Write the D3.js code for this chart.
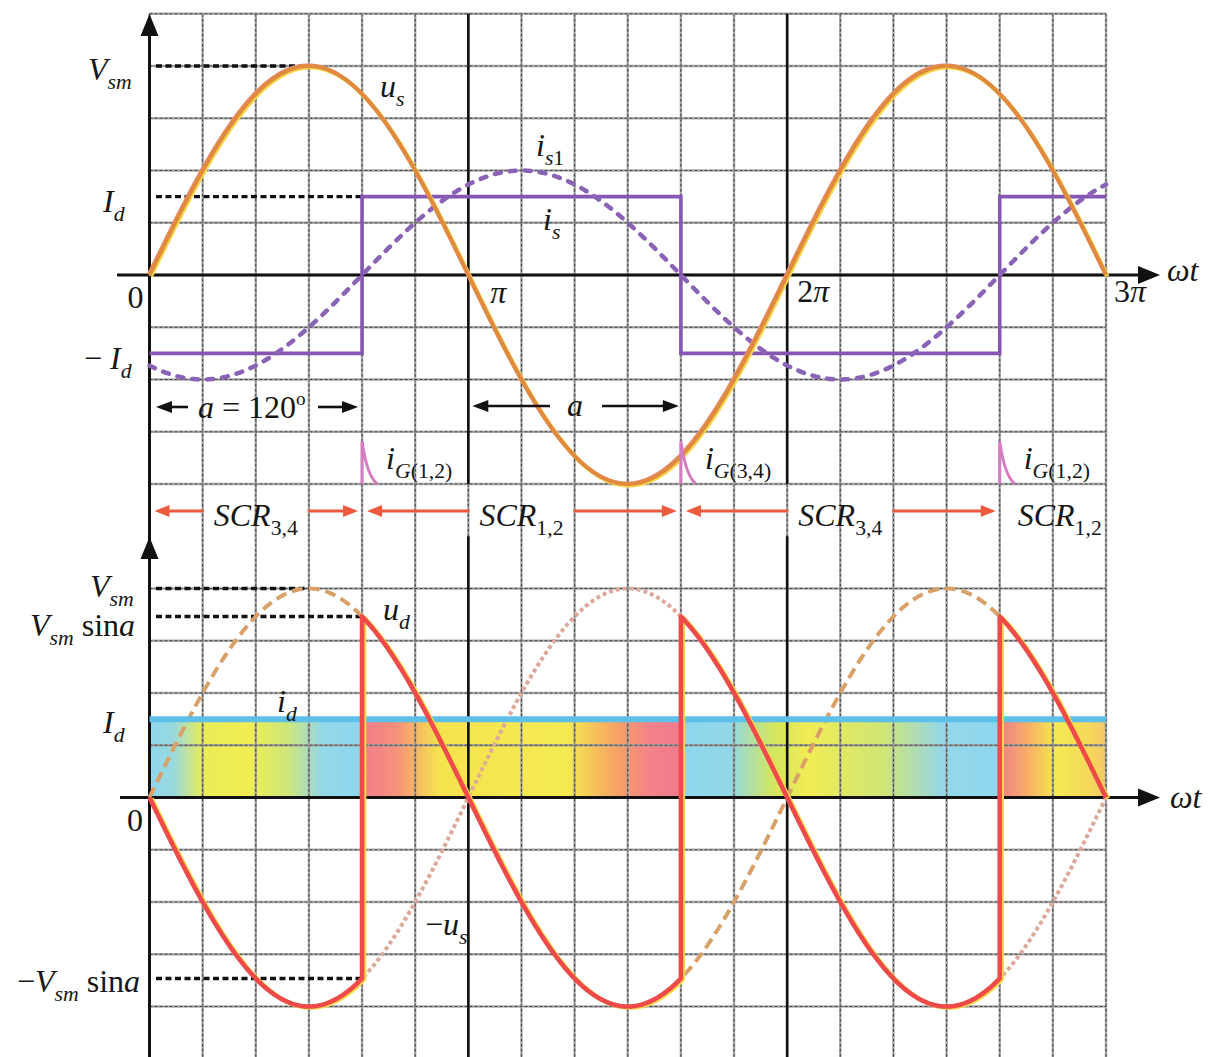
<!DOCTYPE html>
<html><head><meta charset="utf-8">
<script src="https://cdn.jsdelivr.net/npm/d3@7"></script>
<style>
body{margin:0;background:#fff;}
svg{display:block;}
</style>
</head><body>
<svg id="chart" width="1212" height="1057"></svg>
<script>
// ================= DATA (angles in degrees, amplitudes in grid units) =================
const xTickDeg = [0, 180, 360, 540];
const xTickLabels = ["0", "π", "2π", "3π"];
const seriesNames = ["us", "is1", "is", "ud", "id"];
const seriesPeak  = [4.0, 2.0, 1.5, 4.0, 1.5];
const firingDeg = 120;                       // a = 120°
const isBreaksDeg = [0, 120, 300, 480, 540]; // i_s switching instants
const isLevels = [-1.5, 1.5, -1.5, 1.5];     // i_s level in each interval
const scrSegmentsDeg = [[0, 120], [120, 300], [300, 480], [480, 540]];
const scrNames = ["3,4", "1,2", "3,4", "1,2"];
const udSign = [-1, 1, -1, 1];               // u_d = +u_s (SCR1,2) or -u_s (SCR3,4)
const gateDeg = [120, 300, 480];
const gateNames = ["1,2", "3,4", "1,2"];
const gatePeak = 0.82;                        // gate pulse height (grid units)

const peak = n => seriesPeak[seriesNames.indexOf(n)];
const rad = d => d * Math.PI / 180;

// ================= LAYOUT / SCALES =================
const FONT = "'Liberation Serif', 'DejaVu Serif', 'Times New Roman', serif";
const svg = d3.select("#chart");
const x  = d3.scaleLinear().domain([0, 540]).range([149.5, 1106]);
const yT = d3.scaleLinear().domain([-4, 5]).range([484, 13.75]);
const yB = d3.scaleLinear().domain([-5, 5]).range([1058.75, 536.25]);
const H = 1057;

// ---- band gradient (style) ----
const bandStops = [
  [0, "#8dd6ee"], [14, "#9ad9dc"], [30, "#e9ec58"], [55, "#f2ee52"], [78, "#cfe67a"], [98, "#93d7e9"], [119.9, "#8fd6ee"],
  [120, "#f37b8d"], [140, "#f69279"], [163, "#f5e24e"], [235, "#f4ec50"], [262, "#f6a663"], [283, "#f4818a"], [299.9, "#f37b8d"],
  [300, "#8dd6ee"], [328, "#92d7e6"], [352, "#d3e65e"], [372, "#f1ec55"], [415, "#cfe576"], [448, "#93d7e9"], [479.9, "#8fd6ee"],
  [480, "#f27e8e"], [497, "#f7b263"], [512, "#f4ea52"], [530, "#f4d95a"], [540, "#f3c86a"]
];
const defs = svg.append("defs");
const grad = defs.append("linearGradient").attr("id", "bandGrad")
  .attr("gradientUnits", "userSpaceOnUse")
  .attr("x1", x(0)).attr("x2", x(540)).attr("y1", 0).attr("y2", 0);
bandStops.forEach(([d, c]) => grad.append("stop").attr("offset", d / 540).attr("stop-color", c));

// ---- i_d band ----
svg.append("rect")
  .attr("x", x(0)).attr("width", x(540) - x(0))
  .attr("y", yB(peak("id"))).attr("height", yB(0) - yB(peak("id")))
  .attr("fill", "url(#bandGrad)");

// ---- grid ----
const gGrid = svg.append("g");
const gridCols = d3.range(0, 541, 30);
const gridRowsPix = d3.range(-4, 6).map(v => yT(v)).concat(d3.range(-4, 5).map(v => yB(v)));
function gridLine(x1, y1, x2, y2) {
  gGrid.append("line").attr("x1", x1).attr("y1", y1).attr("x2", x2).attr("y2", y2)
    .attr("stroke", "#a0a0a0").attr("stroke-width", 2.4).attr("opacity", 0.85);
  gGrid.append("line").attr("x1", x1).attr("y1", y1).attr("x2", x2).attr("y2", y2)
    .attr("stroke", "#444").attr("stroke-width", 1.1).attr("stroke-dasharray", "3,2");
}
gridCols.forEach(d => gridLine(x(d), yT(5), x(d), H));
gridRowsPix.forEach(py => gridLine(x(0), py, x(540), py));

// dark lines at π, 2π
[180, 360].forEach(d => {
  svg.append("line").attr("x1", x(d)).attr("x2", x(d)).attr("y1", yT(5)).attr("y2", yT(-4))
    .attr("stroke", "#111").attr("stroke-width", 2.6);
  svg.append("line").attr("x1", x(d)).attr("x2", x(d)).attr("y1", yB(5)).attr("y2", H)
    .attr("stroke", "#111").attr("stroke-width", 2.6);
});

// ---- axes ----
const gAx = svg.append("g");
function vArrowHead(px, tipY) {
  gAx.append("path").attr("d", `M${px},${tipY} L${px - 9},${tipY + 22} L${px + 9},${tipY + 22} Z`).attr("fill", "#111");
}
function hArrowHead(tipX, py, col, len, half) {
  gAx.append("path").attr("d", `M${tipX},${py} L${tipX - len},${py - half} L${tipX - len},${py + half} Z`).attr("fill", col);
}
gAx.append("line").attr("x1", x(0)).attr("x2", x(0)).attr("y1", 20).attr("y2", H).attr("stroke", "#111").attr("stroke-width", 3);
vArrowHead(x(0), 14);
vArrowHead(x(0), 537);
gAx.append("line").attr("x1", 117).attr("x2", 1145).attr("y1", yT(0)).attr("y2", yT(0)).attr("stroke", "#111").attr("stroke-width", 3);
hArrowHead(1160, yT(0), "#111", 22, 9);
gAx.append("line").attr("x1", 120).attr("x2", 1145).attr("y1", yB(0)).attr("y2", yB(0)).attr("stroke", "#111").attr("stroke-width", 3);
hArrowHead(1160, yB(0), "#111", 22, 9);

// ---- dashed reference lines ----
function refLine(py, toDeg) {
  svg.append("line").attr("x1", 156).attr("x2", x(toDeg)).attr("y1", py).attr("y2", py)
    .attr("stroke", "#111").attr("stroke-width", 3.4).attr("stroke-dasharray", "6,3.5");
}
const Vsm = peak("us");
refLine(yT(Vsm), 90);
refLine(yT(peak("is")), firingDeg);
refLine(yB(Vsm), 90);
refLine(yB(Vsm * Math.sin(rad(firingDeg))), firingDeg);
refLine(yB(-Vsm * Math.sin(rad(firingDeg))), firingDeg);

// ================= TOP PANEL CURVES =================
const degs = d3.range(0, 540.5, 1);
const lineT = d3.line().x(d => x(d[0])).y(d => yT(d[1]));
const lineB = d3.line().x(d => x(d[0])).y(d => yB(d[1]));

// i_s square wave
const isPts = isLevels.map((v, i) => [isBreaksDeg[i], v]).concat([[540, isLevels[isLevels.length - 1]]]);
svg.append("path").attr("d", d3.line().x(d => x(d[0])).y(d => yT(d[1])).curve(d3.curveStepAfter)(isPts))
  .attr("fill", "none").attr("stroke", "#8557b3").attr("stroke-width", 3.6);

// i_s1 fundamental (dashed)
const is1Pts = degs.map(d => [d, peak("is1") * Math.sin(rad(d - firingDeg))]);
svg.append("path").attr("d", lineT(is1Pts)).attr("fill", "none")
  .attr("stroke", "#8a62b6").attr("stroke-width", 4.5).attr("stroke-dasharray", "6,9").attr("stroke-linecap", "round");

// u_s
const usPts = degs.map(d => [d, Vsm * Math.sin(rad(d))]);
svg.append("path").attr("d", lineT(usPts)).attr("fill", "none").attr("transform", "translate(1.3,1.3)")
  .attr("stroke", "#f5d54a").attr("stroke-width", 4.5);
svg.append("path").attr("d", lineT(usPts)).attr("fill", "none").attr("transform", "translate(-0.8,-0.8)")
  .attr("stroke", "#ea8f86").attr("stroke-width", 3.5);
svg.append("path").attr("d", lineT(usPts)).attr("fill", "none")
  .attr("stroke", "#df8a3e").attr("stroke-width", 4);

// gate pulses
gateDeg.forEach(g => {
  const x0 = x(g), yb = yT(-4), yt = yT(-4 + gatePeak);
  svg.append("path")
    .attr("d", `M${x0},${yb} L${x0},${yt} C${x0 + 3},${yt + 22} ${x0 + 8},${yb - 6} ${x0 + 15},${yb}`)
    .attr("fill", "none").attr("stroke", "#d47cc2").attr("stroke-width", 3);
});

// ================= BOTTOM PANEL CURVES =================
// -u_s dotted
svg.append("path").attr("d", lineB(degs.map(d => [d, -Vsm * Math.sin(rad(d))]))).attr("fill", "none")
  .attr("stroke", "#dca99a").attr("stroke-width", 4).attr("stroke-dasharray", "4,3");
// u_s dashed
svg.append("path").attr("d", lineB(degs.map(d => [d, Vsm * Math.sin(rad(d))]))).attr("fill", "none")
  .attr("stroke", "#d9a168").attr("stroke-width", 4).attr("stroke-dasharray", "11,6");

// i_d level line
svg.append("line").attr("x1", x(0)).attr("x2", x(540)).attr("y1", yB(peak("id"))).attr("y2", yB(peak("id")))
  .attr("stroke", "#5dc0ea").attr("stroke-width", 6);

// u_d
const udPts = [];
scrSegmentsDeg.forEach(([s, e], i) => {
  d3.range(s, e + 0.001, 1).forEach(d => udPts.push([d, udSign[i] * Vsm * Math.sin(rad(d))]));
});
svg.append("path").attr("d", lineB(udPts)).attr("fill", "none").attr("transform", "translate(2,1)")
  .attr("stroke", "#f7d84a").attr("stroke-width", 4.5).attr("stroke-linejoin", "round");
svg.append("path").attr("d", lineB(udPts)).attr("fill", "none")
  .attr("stroke", "#ee4a4a").attr("stroke-width", 4.6).attr("stroke-linejoin", "round");

// ================= TEXT =================
function rich(x0, y0, parts, size, anchor) {
  const t = svg.append("text").attr("x", x0).attr("y", y0).attr("font-size", size)
    .attr("font-family", FONT).attr("fill", "#161616")
    .attr("text-anchor", anchor || "start");
  let shift = 0;
  parts.forEach(([str, opt]) => {
    const ts = t.append("tspan").text(str).attr("font-family", FONT);
    ts.attr("font-style", opt.includes("i") ? "italic" : "normal");
    let target = 0, fs = size;
    if (opt.includes("b")) { target = size * 0.27; fs = size * 0.68; }
    if (opt.includes("p")) { target = -size * 0.4; fs = size * 0.6; }
    ts.attr("font-size", fs);
    if (target - shift !== 0) ts.attr("dy", target - shift);
    shift = target;
  });
  return t;
}
function arrow(x1, x2, py, col, w, len, half) {
  const dir = Math.sign(x2 - x1);
  svg.append("line").attr("x1", x1).attr("x2", x2 - dir * len * 0.7).attr("y1", py).attr("y2", py)
    .attr("stroke", col).attr("stroke-width", w);
  svg.append("path").attr("d", `M${x2},${py} L${x2 - dir * len},${py - half} L${x2 - dir * len},${py + half} Z`).attr("fill", col);
}

const FS = 32;
// top panel
rich(88, 80, [["V", "i"], ["sm", "ib"]], FS);
rich(103, 212, [["I", "i"], ["d", "ib"]], FS);
rich(84, 369, [["− ", ""], ["I", "i"], ["d", "ib"]], FS);
const tickDx = [-22, 22, 10, 8];
const tickY = [308, 303, 302, 302];
xTickLabels.forEach((lab, i) => {
  const parts = lab.length > 1 ? [[lab[0], ""], [lab.slice(1), "i"]] : (lab === "0" ? [[lab, ""]] : [[lab, "i"]]);
  rich(x(xTickDeg[i]) + tickDx[i], tickY[i], parts, FS);
});
rich(1167, 281, [["ωt", "i"]], FS);
rich(380, 97, [["u", "i"], ["s", "ib"]], FS);
rich(536, 156, [["i", "i"], ["s", "ib"], ["1", "b"]], FS);
rich(543, 230, [["i", "i"], ["s", "ib"]], FS);

// a = 120° annotation
arrow(188, 156, 407, "#111", 2.6, 16, 6);
rich(198, 418, [["a", "i"], [" = 120", ""], ["o", "p"]], FS);
arrow(318, x(firingDeg) - 4, 407, "#111", 2.6, 16, 6);
arrow(550, x(180) + 4, 406, "#111", 2.6, 16, 6);
rich(567, 416, [["a", "i"]], FS);
arrow(602, x(180 + firingDeg) - 2, 406, "#111", 2.6, 16, 6);

// gate labels
gateDeg.forEach((g, i) => {
  rich(x(g) + 24, 469, [["i", "i"], ["G", "ib"], ["(" + gateNames[i] + ")", "b"]], FS);
});

// SCR row
const scrY = 511, scrCol = "#ec5a3e";
scrSegmentsDeg.forEach(([s, e], i) => {
  const last = i === scrSegmentsDeg.length - 1;
  const cx = (x(s) + x(e)) / 2;
  const t = last
    ? rich(x(s) + 18, 526, [["SCR", "i"], [scrNames[i], "b"]], FS)
    : rich(cx, 526, [["SCR", "i"], [scrNames[i], "b"]], FS, "middle");
  if (!last) {
    const w = t.node().getComputedTextLength();
    arrow(cx - w / 2 - 10, x(s) + 5, scrY, scrCol, 3.2, 15, 6);
    arrow(cx + w / 2 + 10, x(e) - 4, scrY, scrCol, 3.2, 15, 6);
  }
});

// bottom panel
rich(90, 597, [["V", "i"], ["sm", "ib"]], FS);
rich(30, 636, [["V", "i"], ["sm", "ib"], [" sin", ""], ["a", "i"]], FS);
rich(103, 733, [["I", "i"], ["d", "ib"]], FS);
rich(127, 831, [["0", ""]], FS);
rich(17, 992, [["−", ""], ["V", "i"], ["sm", "ib"], [" sin", ""], ["a", "i"]], FS);
rich(383, 620, [["u", "i"], ["d", "ib"]], FS);
rich(277, 712, [["i", "i"], ["d", "ib"]], FS);
rich(425, 935, [["−", ""], ["u", "i"], ["s", "ib"]], FS);
rich(1170, 808, [["ωt", "i"]], FS);
</script>
</body></html>
